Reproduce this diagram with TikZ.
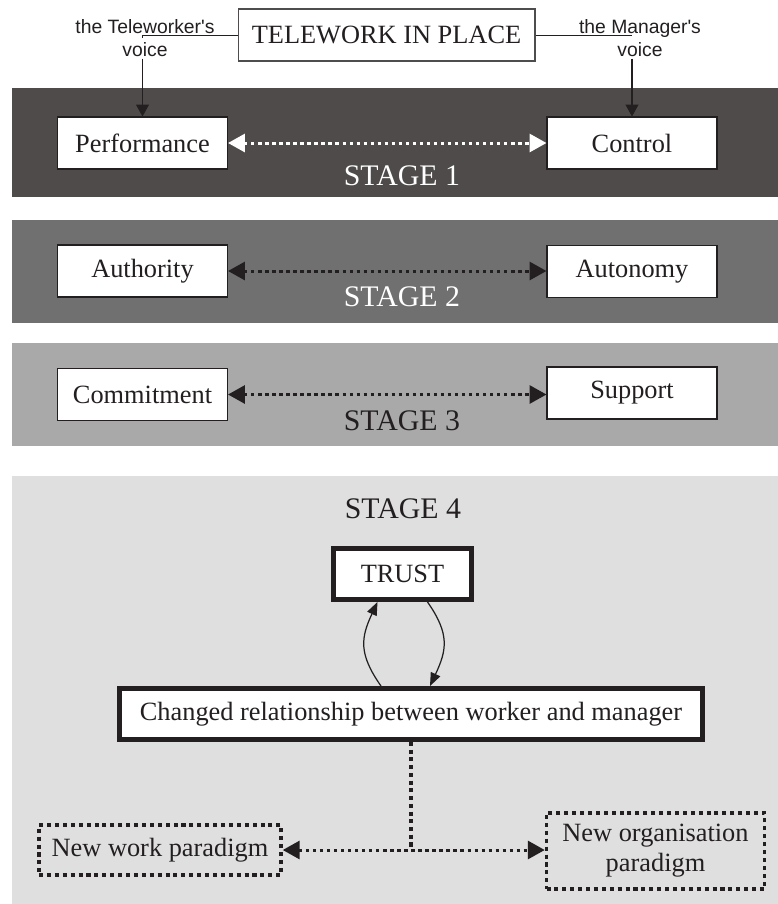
\documentclass[tikz,border=0pt]{standalone}
\usepackage{fontspec}
\setmainfont{Liberation Serif}
\setsansfont{Liberation Sans}
\usepackage{tikz}
\usetikzlibrary{arrows.meta,positioning,calc}
\definecolor{stageone}{HTML}{4E4B4A}
\definecolor{stagetwo}{HTML}{707070}
\definecolor{stagethree}{HTML}{A9A9A9}
\definecolor{stagefour}{HTML}{DFDFDF}
\definecolor{ink}{HTML}{231F20}
\tikzset{
  box/.style={draw=ink, line width=0.6pt, fill=white, text=ink, inner sep=0pt, minimum width=3.4cm, minimum height=1.04cm, font=\fontsize{15}{17}\selectfont},
  thickbox/.style={box, line width=2.8pt},
  dotbox/.style={box, fill=none, line width=2pt, dash pattern=on 2.3pt off 2.2pt, align=center},
  stagelabel/.style={font=\fontsize{17}{20}\selectfont, inner sep=0pt},
  voice/.style={font=\sffamily\fontsize{11}{13}\selectfont, text=ink, align=center, inner sep=1pt},
  voicearrow/.style={-{Triangle[length=6.8pt,width=7.4pt]}, line width=0.6pt, draw=ink},
  linkarrow/.style={{Triangle[length=9.6pt,width=10.2pt]}-{Triangle[length=9.6pt,width=10.2pt]}, line width=1.7pt, dash pattern=on 1.9pt off 2.1pt},
  dotline/.style={draw=ink, line width=2pt, dash pattern=on 2.3pt off 2.1pt},
  trustarrow/.style={-{Triangle[length=7.5pt,width=5.8pt]}, line width=0.7pt, draw=ink}
}
\begin{document}
\begin{tikzpicture}[x=0.02cm,y=-0.02cm]
\useasboundingbox (0,0) rectangle (778,904);
\fill[stageone] (12,88) rectangle (778,197);
\fill[stagetwo] (12,220) rectangle (778,323);
\fill[stagethree] (12,343) rectangle (778,446);
\fill[stagefour] (12,476) rectangle (778,904);

\node[box, draw=ink!80, minimum width=5.94cm] (tele) at (386.5,35) {TELEWORK IN PLACE};
\node[voice] (tvoice) at (145,38) {the Teleworker\textquotesingle s\\voice};
\node[voice] (mvoice) at (640,38) {the Manager\textquotesingle s\\voice};

\node[box] (perf) at (142.5,143) {Performance};
\node[box] (ctrl) at (632,143) {Control};
\node[box] (auth) at (142.5,271) {Authority};
\node[box] (auto) at (632,271.5) {Autonomy};
\node[box] (comm) at (142.5,394.5) {Commitment};
\node[box] (supp) at (632,393) {Support};

\draw[ink, line width=0.5pt] (tele.west) -- (tele.west -| perf.north) -- ++(0,3);
\draw[ink, line width=0.5pt] (tele.east) -- (tele.east -| ctrl.north);
\draw[voicearrow] (tvoice.south -| perf.north) -- (perf.north);
\draw[voicearrow] (mvoice.south -| ctrl.north) -- (ctrl.north);

\draw[linkarrow, white] (perf.east) -- (perf.east -| ctrl.west);
\draw[linkarrow, ink] (auth.east) -- (auth.east -| auto.west);
\draw[linkarrow, ink] (comm.east) -- (comm.east -| supp.west);

\node[stagelabel, white] (sone) at (402,176) {STAGE 1};
\node[stagelabel, white] (stwo) at (402,297) {STAGE 2};
\node[stagelabel, ink] (sthree) at (402,421) {STAGE 3};
\node[stagelabel, ink] (sfour) at (403,509) {STAGE 4};

\node[thickbox, minimum width=2.76cm, minimum height=1.02cm] (trust) at (402.5,574) {TRUST};
\node[thickbox, minimum width=11.66cm, minimum height=1.02cm] (changed) at (411,714) {Changed relationship between worker and manager};
\draw[trustarrow] ([xshift=-0.6cm]changed.north) to[out=125,in=-115,looseness=1.2] ([xshift=-0.5cm]trust.south);
\draw[trustarrow] ([xshift=0.5cm]trust.south) to[out=-55,in=65,looseness=1.2] ([xshift=0.38cm]changed.north);

\node[dotbox, minimum width=4.84cm, minimum height=1cm] (nwork) at (160,850) {New work paradigm};
\node[dotbox, minimum width=4.36cm, minimum height=1.52cm] (norg) at (655.5,851) {New organisation\\paradigm};
\coordinate (split) at (changed.south |- nwork.east);
\draw[dotline] (changed.south) -- (split);
\draw[linkarrow, ink] (nwork.east) -- (nwork.east -| norg.west);
\end{tikzpicture}
\end{document}
